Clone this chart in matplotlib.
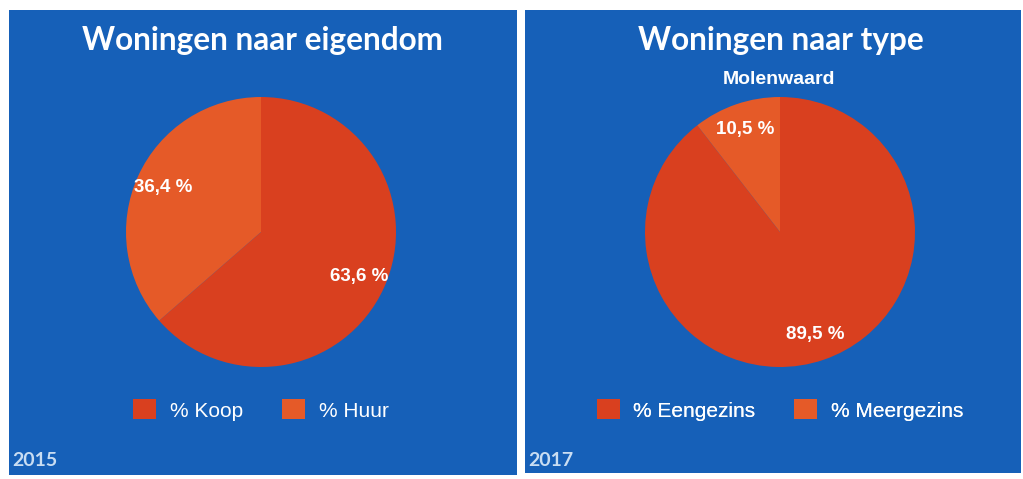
import matplotlib.pyplot as plt
from matplotlib.patches import Rectangle

# data
eigendom_labels = ["% Koop", "% Huur"]
eigendom_values = [63.6, 36.4]
type_labels = ["% Eengezins", "% Meergezins"]
type_values = [89.5, 10.5]

W, H = 1023, 479
blue = "#1660b8"
dark_or = "#d9401f"
light_or = "#e55a28"
year_col = "#c9ddf2"


def pct(p):
    return f"{p:.1f} %".replace(".", ",")


fig = plt.figure(figsize=(W / 100, H / 100), dpi=100, facecolor="white")
ax = fig.add_axes([0, 0, 1, 1])

panels = [
    # x0, y0 (from top), x1, y1, pie centre x, title, subtitle, year, labels, values
    (9, 10, 517, 475, 261, "Woningen naar eigendom", None, "2015", eigendom_labels, eigendom_values),
    (525, 10, 1021, 473, 780, "Woningen naar type", "Molenwaard", "2017", type_labels, type_values),
]

for x0, y0, x1, y1, cx, title, sub, year, labels, values in panels:
    ax.add_patch(Rectangle((x0, H - y1), x1 - x0, y1 - y0, facecolor=blue, edgecolor="none", zorder=0))
    cy = H - 232
    wedges, texts, autotexts = ax.pie(
        values, colors=[dark_or, light_or], startangle=90, counterclock=False,
        center=(cx, cy), radius=135, frame=True, autopct=pct, pctdistance=0.8,
        textprops=dict(color="white", fontsize=13.5, fontweight="bold", family="Liberation Sans"),
        wedgeprops=dict(linewidth=0),
    )
    ax.text(cx + 1, H - 40, title, ha="center", va="center", color="white",
            fontsize=22.7, fontweight="bold", family="Lato")
    if sub:
        ax.text(cx - 1, H - 79, sub, ha="center", va="center", color="white",
                fontsize=14, fontweight="bold", family="Liberation Sans")
    ax.text(x0 + 3, H - 461, year, ha="left", va="center", color=year_col,
            fontsize=14, fontweight="bold", family="Lato")
    leg = ax.legend(wedges, labels, loc="center", bbox_to_anchor=(cx, H - 410),
                    bbox_transform=ax.transData, ncol=2, frameon=False,
                    labelcolor="white", prop=dict(family="Liberation Sans", size=15),
                    handlelength=1.1, handleheight=1.1, handletextpad=0.67,
                    columnspacing=1.85)
    ax.add_artist(leg)

ax.set_xlim(0, W)
ax.set_ylim(0, H)
ax.set_aspect("auto")
ax.set_axis_off()

fig.savefig("out.png", dpi=100, facecolor="white")
